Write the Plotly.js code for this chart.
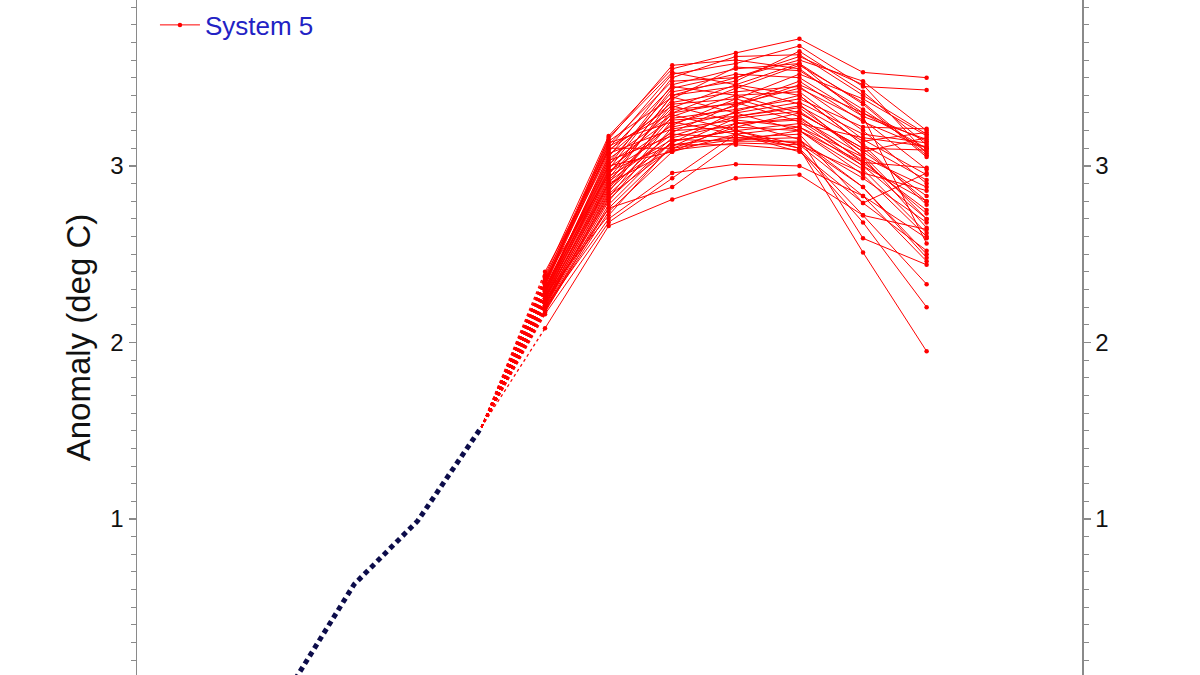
<!DOCTYPE html>
<html>
<head>
<meta charset="utf-8">
<script src="https://cdn.plot.ly/plotly-3.0.1.min.js"></script>
<style>
  html, body { margin: 0; padding: 0; background: #ffffff; }
  #chart { width: 1200px; height: 675px; }
</style>
</head>
<body>
<div id="chart"></div>
<script>
// Observed anomaly (months before the forecast start)
const obsLead = [-4, -3, -2, -1];
const obsValues = [0.05, 0.63, 0.99, 1.52];

// Forecast lead months
const fcLead = [0, 1, 2, 3, 4, 5, 6];

// System 5 ensemble members (deg C), one row per member
const members = [
    [2.36, 3.15, 3.57, 3.60, 3.55, 3.30, 3.10],
    [2.38, 3.17, 3.55, 3.64, 3.72, 3.53, 3.50],
    [2.33, 3.10, 3.52, 3.58, 3.68, 3.45, 3.43],
    [2.30, 3.05, 3.50, 3.62, 3.63, 3.40, 3.18],
    [2.35, 3.12, 3.48, 3.50, 3.60, 3.48, 3.20],
    [2.28, 3.00, 3.46, 3.55, 3.58, 3.35, 3.05],
    [2.40, 3.08, 3.45, 3.40, 3.30, 3.10, 2.80],
    [2.25, 2.98, 3.44, 3.52, 3.50, 3.28, 3.15],
    [2.31, 3.02, 3.42, 3.48, 3.65, 3.42, 3.12],
    [2.27, 2.95, 3.40, 3.45, 3.35, 3.05, 2.65],
    [2.34, 3.14, 3.39, 3.30, 3.20, 2.95, 2.60],
    [2.22, 2.90, 3.38, 3.56, 3.54, 3.32, 3.08],
    [2.29, 3.06, 3.36, 3.42, 3.45, 3.20, 2.90],
    [2.24, 2.93, 3.35, 3.38, 3.52, 3.38, 3.17],
    [2.32, 3.09, 3.34, 3.25, 3.15, 2.88, 2.50],
    [2.26, 2.96, 3.33, 3.46, 3.40, 3.12, 2.78],
    [2.20, 2.85, 3.32, 3.35, 3.48, 3.25, 3.10],
    [2.37, 3.11, 3.30, 3.36, 3.25, 3.00, 2.70],
    [2.23, 2.88, 3.30, 3.44, 3.57, 3.36, 3.06],
    [2.28, 3.04, 3.29, 3.20, 3.12, 2.83, 2.46],
    [2.21, 2.87, 3.28, 3.40, 3.42, 3.15, 2.95],
    [2.30, 3.01, 3.27, 3.32, 3.38, 3.22, 3.21],
    [2.19, 2.82, 3.26, 3.28, 3.33, 3.08, 2.83],
    [2.33, 3.13, 3.25, 3.18, 3.10, 2.72, 2.33],
    [2.25, 2.92, 3.24, 3.34, 3.46, 3.30, 3.14],
    [2.27, 2.99, 3.23, 3.38, 3.28, 3.02, 2.75],
    [2.18, 2.80, 3.22, 3.30, 3.36, 3.18, 3.13],
    [2.35, 3.07, 3.21, 3.26, 3.22, 3.05, 2.88],
    [2.22, 2.86, 3.20, 3.22, 3.30, 3.10, 3.09],
    [2.29, 2.97, 3.19, 3.35, 3.44, 3.26, 2.98],
    [2.24, 2.91, 3.18, 3.16, 3.18, 2.79, 2.52],
    [2.31, 3.03, 3.17, 3.28, 3.34, 3.14, 3.19],
    [2.20, 2.84, 3.16, 3.24, 3.26, 3.03, 2.73],
    [2.26, 2.94, 3.15, 3.14, 3.14, 2.93, 2.68],
    [2.17, 2.78, 3.14, 3.20, 3.24, 3.16, 3.11],
    [2.23, 2.89, 3.13, 3.31, 3.40, 3.12, 2.92],
    [2.28, 2.97, 3.12, 3.12, 3.09, 2.68, 2.20],
    [2.19, 2.76, 3.11, 3.27, 3.31, 3.08, 3.16],
    [2.34, 3.10, 3.10, 3.22, 3.20, 2.98, 2.62],
    [2.21, 2.83, 3.10, 3.15, 3.16, 2.59, 2.44],
    [2.25, 2.90, 3.09, 3.13, 3.12, 2.96, 2.86],
    [2.18, 2.74, 3.08, 3.18, 3.22, 3.00, 2.80],
    [2.30, 3.00, 3.08, 3.24, 3.27, 3.06, 2.70],
    [2.22, 2.81, 3.14, 3.20, 3.10, 2.51, 1.95],
    [2.27, 2.72, 3.12, 3.16, 3.13, 2.88, 2.48],
    [2.36, 2.95, 3.40, 3.50, 3.62, 3.46, 3.07],
    [2.20, 2.70, 2.96, 3.01, 3.00, 2.83, 2.59],
    [2.16, 2.68, 2.93, 3.18, 3.08, 2.79, 2.96],
    [2.24, 2.76, 2.88, 3.14, 3.20, 3.02, 2.99],
    [2.08, 2.66, 2.81, 2.93, 2.95, 2.72, 2.64],
    [2.32, 3.16, 3.53, 3.46, 3.58, 3.28, 2.56]
];

const yTicks = [1, 2, 3];
const yRange = [0.116, 3.94];
const xRange = [-6.415, 8.443];

const RED = '#ff0000';
const AXIS_GREY = '#8a8a8a';
const FONT = 'Liberation Sans, Arial, sans-serif';

// all members in one trace, separated by nulls
const memX = [], memY = [];
members.forEach(m => {
    m.forEach((v, i) => { memX.push(fcLead[i]); memY.push(v); });
    memX.push(null); memY.push(null);
});

// dotted links from the last observation to each member's first month
const lastObsX = obsLead[obsLead.length - 1];
const lastObsY = obsValues[obsValues.length - 1];
const linkX = [], linkY = [];
members.forEach(m => {
    linkX.push(lastObsX, fcLead[0], null);
    linkY.push(lastObsY, m[0], null);
});

const traces = [
    {
        type: 'scatter', mode: 'lines',
        x: obsLead, y: obsValues,
        line: { color: '#0c0c4a', width: 5, dash: '5px,4px' },
        showlegend: false, hoverinfo: 'skip'
    },
    {
        type: 'scatter', mode: 'lines+markers',
        name: 'System 5',
        x: memX, y: memY,
        connectgaps: false,
        line: { color: RED, width: 1 },
        marker: { color: RED, size: 4.5 },
        showlegend: true
    },
    {
        type: 'scatter', mode: 'lines',
        x: linkX, y: linkY, yaxis: 'y2',
        connectgaps: false,
        line: { color: RED, width: 1.3, dash: '3px,3px' },
        showlegend: false, hoverinfo: 'skip'
    }
];

const yCommon = {
    range: yRange,
    autorange: false,
    tickmode: 'array',
    tickvals: yTicks,
    ticktext: yTicks.map(String),
    ticks: 'outside',
    ticklen: 7,
    tickwidth: 1.2,
    tickcolor: AXIS_GREY,
    showline: true,
    linecolor: AXIS_GREY,
    linewidth: 1.5,
    showgrid: false,
    zeroline: false,
    tickfont: { family: FONT, size: 24, color: '#111111' },
    minor: { dtick: 0.1, tick0: 0, ticks: 'outside', ticklen: 5, tickwidth: 1, tickcolor: AXIS_GREY, showgrid: false }
};

const layout = {
    width: 1200,
    height: 675,
    margin: { l: 137, r: 118, t: 0, b: 0, pad: 0 },
    paper_bgcolor: '#ffffff',
    plot_bgcolor: '#ffffff',
    xaxis: { range: xRange, visible: false, fixedrange: true },
    yaxis: Object.assign({}, yCommon, {
        side: 'left',
        title: {
            text: 'Anomaly (deg C)',
            font: { family: FONT, size: 33, color: '#111111' },
            standoff: 10
        }
    }),
    yaxis2: Object.assign({}, yCommon, { side: 'right', overlaying: 'y' }),
    showlegend: true,
    legend: {
        x: 0.019, y: 0.963, xanchor: 'left', yanchor: 'middle',
        bgcolor: 'rgba(0,0,0,0)',
        itemwidth: 40,
        font: { family: FONT, size: 26, color: '#2222c4' }
    }
};

Plotly.newPlot('chart', traces, layout, { displayModeBar: false, staticPlot: true });
</script>
</body>
</html>
